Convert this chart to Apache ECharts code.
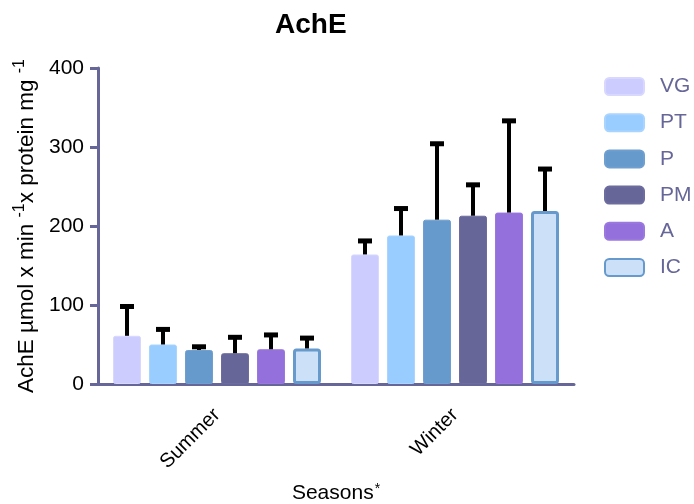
<!DOCTYPE html>
<html>
<head>
<meta charset="utf-8">
<script src="https://cdn.jsdelivr.net/npm/echarts@6/dist/echarts.min.js"></script>
<style>
  html, body { margin: 0; padding: 0; background: #fff; }
  #chart { width: 694px; height: 504px; }
</style>
</head>
<body>
<div id="chart"></div>
<script>
// Seasons on the category axis
const seasons = ['Summer', 'Winter'];
// Site groups
const groups = ['VG', 'PT', 'P', 'PM', 'A', 'IC'];
// Mean AchE activity per group (Summer, Winter)
const meanVG = [61, 164];
const meanPT = [50, 188];
const meanP  = [43, 208];
const meanPM = [39, 213];
const meanA  = [44, 217];
const meanIC = [45, 219];
// Standard deviation per group (Summer, Winter)
const sdVG = [39, 19];
const sdPT = [21, 36];
const sdP  = [6, 98];
const sdPM = [22, 41];
const sdA  = [20, 118];
const sdIC = [15, 55];
// Y axis ticks
const yMin = 0, yMax = 400, yStep = 100;

const means = [meanVG, meanPT, meanP, meanPM, meanA, meanIC];
const sds = [sdVG, sdPT, sdP, sdPM, sdA, sdIC];

const fills = ['#ccccff', '#99ccff', '#6699cc', '#666699', '#9370db', '#cce0f7'];
const borders = ['#d8d8ff', '#a8d4ff', '#6f9fd0', '#6c6c9e', '#9a78de', '#6699cc'];
const borderWidths = [1, 1, 1, 1, 1, 3];

const BAR_W = 28;
const BAR_PITCH = 36;
const axisColor = '#666699';
const font = 'Liberation Sans, Arial, sans-serif';

const series = [];
groups.forEach((name, i) => {
  series.push({
    name: name,
    type: 'bar',
    barWidth: BAR_W,
    barGap: ((BAR_PITCH - BAR_W) / BAR_W * 100) + '%',
    data: means[i],
    itemStyle: {
      color: fills[i],
      borderColor: borders[i],
      borderWidth: borderWidths[i],
      borderRadius: 2
    },
    z: 2
  });
});

// Upper error bars drawn on top of each bar
groups.forEach((name, i) => {
  const offset = (i - (groups.length - 1) / 2) * BAR_PITCH;
  series.push({
    name: name + ' error',
    type: 'custom',
    data: seasons.map((s, c) => [c, means[i][c], sds[i][c]]),
    encode: { x: 0, y: 1 },
    z: 5,
    silent: true,
    renderItem: function (params, api) {
      const c = api.value(0);
      const m = api.value(1);
      const e = api.value(2);
      const base = api.coord([c, m]);
      const top = api.coord([c, m + e]);
      const x = base[0] + offset;
      const style = { stroke: '#000', lineWidth: 4 };
      return {
        type: 'group',
        children: [
          { type: 'line', shape: { x1: x, y1: base[1], x2: x, y2: top[1] }, style: style },
          { type: 'line', shape: { x1: x - 7, y1: top[1] + 1.5, x2: x + 7, y2: top[1] + 1.5 }, style: { stroke: '#000', lineWidth: 5 } }
        ]
      };
    }
  });
});

const chart = echarts.init(document.getElementById('chart'), null, { renderer: 'canvas' });
chart.setOption({
  animation: false,
  backgroundColor: '#ffffff',
  textStyle: { fontFamily: font },
  title: {
    text: 'AchE',
    left: 270,
    top: 6,
    textStyle: { fontSize: 28, fontWeight: 'bold', color: '#000', fontFamily: font }
  },
  legend: {
    data: groups,
    orient: 'vertical',
    left: 599,
    top: 71,
    itemWidth: 39,
    itemHeight: 17,
    itemGap: 15.2,
    icon: 'roundRect',
    textStyle: { fontSize: 21, color: axisColor, fontFamily: font, padding: [0, 0, 0, 11] }
  },
  grid: { left: 98, right: 120, top: 68, bottom: 120, containLabel: false, outerBoundsMode: 'none' },
  xAxis: {
    type: 'category',
    data: seasons,
    name: '{n|Seasons}{s|*}',
    nameLocation: 'middle',
    nameGap: 98,
    nameTextStyle: {
      rich: {
        n: { fontSize: 21, lineHeight: 22, color: '#000', fontFamily: font },
        s: { fontSize: 14, lineHeight: 22, color: '#000', fontFamily: font, verticalAlign: 'top', padding: [0, 0, 12, 1] }
      }
    },
    axisLine: { lineStyle: { color: axisColor, width: 3 } },
    axisTick: { alignWithLabel: true, length: 8, lineStyle: { color: axisColor, width: 3 } },
    axisLabel: { rotate: 45, fontSize: 20, color: '#000', margin: 28, fontFamily: font },
    splitLine: { show: false }
  },
  yAxis: {
    type: 'value',
    min: yMin,
    max: yMax,
    interval: yStep,
    name: '{n|AchE µmol x min }{s|-1}{n|x protein mg }{s|-1}',
    nameLocation: 'middle',
    nameGap: 57,
    nameRotate: 90,
    nameTextStyle: {
      rich: {
        n: { fontSize: 22.5, color: '#000', fontFamily: font },
        s: { fontSize: 16, color: '#000', fontFamily: font, padding: [0, 0, 13, 0] }
      }
    },
    axisLine: { show: true, lineStyle: { color: axisColor, width: 3 } },
    axisTick: { show: true, length: 8, lineStyle: { color: axisColor, width: 3 } },
    axisLabel: { fontSize: 21, color: '#000', margin: 14, fontFamily: font },
    splitLine: { show: false }
  },
  series: series
});
</script>
</body>
</html>
